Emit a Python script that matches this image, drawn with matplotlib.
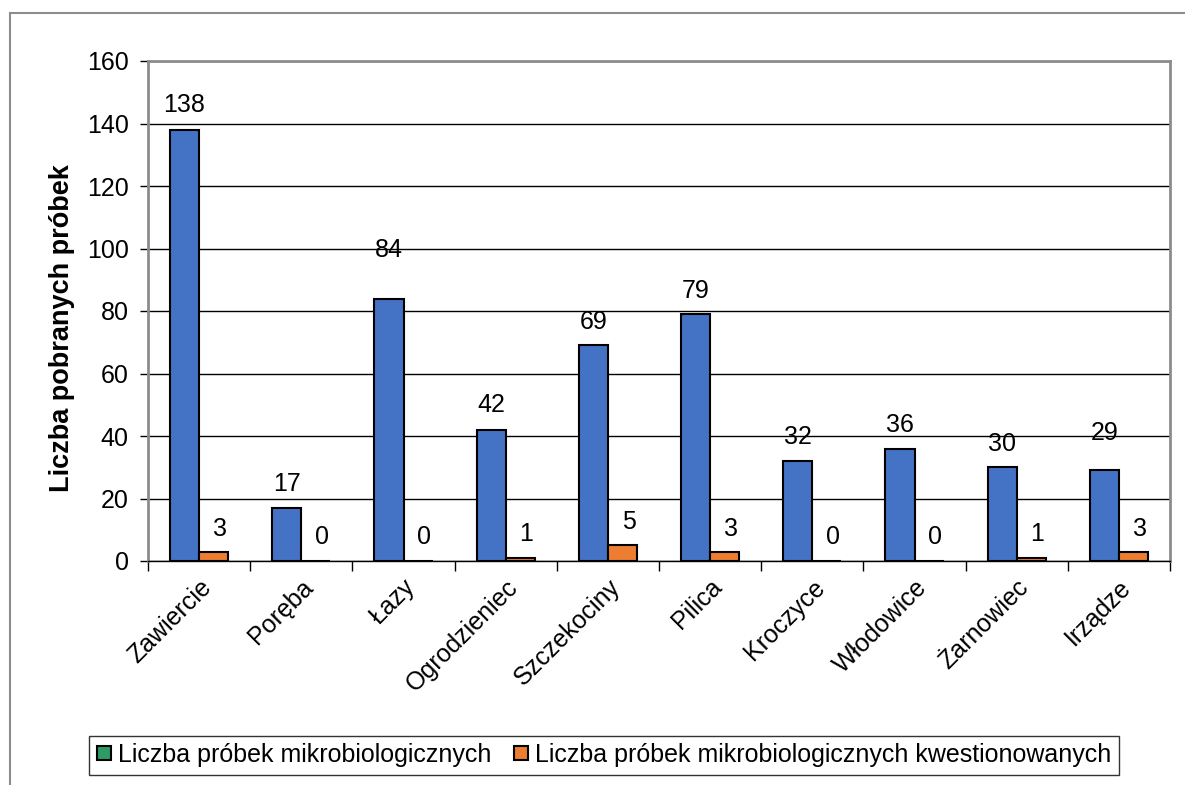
import numpy as np
import matplotlib.pyplot as plt
from matplotlib.patches import Rectangle
from matplotlib.lines import Line2D

plt.rcParams['font.family'] = ['Liberation Sans', 'DejaVu Sans']

towns = ['Zawiercie', 'Poręba', 'Łazy', 'Ogrodzieniec', 'Szczekociny',
         'Pilica', 'Kroczyce', 'Włodowice', 'Żarnowiec', 'Irządze']
samples_micro = [138, 17, 84, 42, 69, 79, 32, 36, 30, 29]
samples_questioned = [3, 0, 0, 1, 5, 3, 0, 0, 1, 3]
yticks = [0, 20, 40, 60, 80, 100, 120, 140, 160]
series_names = ['Liczba próbek mikrobiologicznych',
                'Liczba próbek mikrobiologicznych kwestionowanych']

# label offsets above the bar top, in points (a couple were moved by hand)
offset_micro = [18, 17, 35, 18, 17, 17, 17, 17, 17, 27]
offset_questioned = [16, 17, 17, 17, 17, 16, 17, 17, 17, 16]


def main():
    fig = plt.figure(figsize=(11.85, 7.85), dpi=100)
    ax = fig.add_axes([148 / 1185, 1 - 561 / 785, (1170 - 148) / 1185, (561 - 61) / 785])

    # outer chart frame
    fig.patches.append(Rectangle((10 / 1185, -0.05), 1.1, 1 - 13 / 785 + 0.05,
                                 transform=fig.transFigure, fill=False,
                                 edgecolor='#8c8c8c', lw=1.5))

    x = np.arange(len(towns))
    w = 0.285
    ax.bar(x - w / 2, samples_micro, w, color='#4472C4', edgecolor='black', lw=1.5, zorder=3)
    ax.bar(x + w / 2, samples_questioned, w, color='#ED7D31', edgecolor='black', lw=1.5, zorder=3)

    for i in range(len(towns)):
        ax.annotate(str(samples_micro[i]), (x[i] - w / 2, samples_micro[i]),
                    xytext=(0, offset_micro[i]), textcoords='offset points',
                    ha='center', va='center', fontsize=18)
        ax.annotate(str(samples_questioned[i]), (x[i] + w / 2 + 0.06, samples_questioned[i]),
                    xytext=(0, offset_questioned[i]), textcoords='offset points',
                    ha='center', va='center', fontsize=18)

    ax.set_xlim(-0.5, len(towns) - 0.5)
    ax.set_ylim(0, 160)
    ax.set_yticks(yticks)
    ax.tick_params(axis='y', labelsize=18, length=6, width=1, direction='out', pad=8)
    ax.yaxis.grid(True, color='black', lw=1)
    ax.set_axisbelow(True)

    ax.set_xticks(x)
    ax.set_xticklabels(towns, rotation=45, ha='right', rotation_mode='anchor', fontsize=18)
    ax.tick_params(axis='x', length=0, pad=10)
    ax.set_xticks(np.arange(-0.5, len(towns)), minor=True)
    ax.tick_params(axis='x', which='minor', length=7, width=1, direction='out')

    for side in ['top', 'right', 'left']:
        ax.spines[side].set_color('#8c8c8c')
        ax.spines[side].set_linewidth(2)
    ax.spines['bottom'].set_color('black')
    ax.spines['bottom'].set_linewidth(1)

    ax.set_ylabel('Liczba pobranych próbek', fontsize=19.5, fontweight='bold')
    ax.yaxis.set_label_coords(-0.0714, 0.466)

    handles = [Line2D([], [], marker='s', ls='none', markersize=10, markerfacecolor='#2E9B65',
                      markeredgecolor='black', markeredgewidth=1.5),
               Line2D([], [], marker='s', ls='none', markersize=10, markerfacecolor='#ED7D31',
                      markeredgecolor='black', markeredgewidth=1.5)]
    leg = fig.legend(handles, series_names, loc='center', bbox_to_anchor=(604 / 1185, 1 - 755 / 785),
                     ncol=2, fontsize=18, frameon=True, fancybox=False, edgecolor='black',
                     handlelength=0.6, handletextpad=0.25, columnspacing=0.9, borderpad=0.3,
                     borderaxespad=0)
    leg.get_frame().set_linewidth(1)

    fig.savefig('out.png', dpi=100)


if __name__ == '__main__':
    main()
